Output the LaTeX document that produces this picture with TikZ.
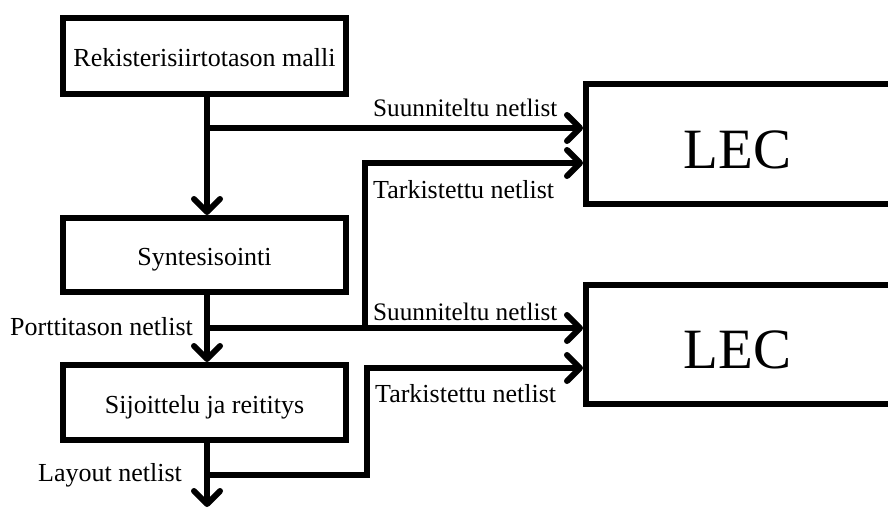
\documentclass[tikz,border=0pt]{standalone}
\usepackage{fontspec}
\setmainfont{Liberation Serif}
\usetikzlibrary{arrows.meta}
\begin{document}
\begin{tikzpicture}[x=1pt,y=-1pt,
  every node/.style={font=\fontsize{26}{30}\selectfont},
  stagebox/.style={draw, line width=6pt, minimum width=283pt, text height=21pt, text depth=0pt, inner sep=0pt},
  lecbox/.style={draw, line width=6pt, minimum width=360pt, minimum height=120pt, inner sep=0pt},
  lectext/.style={font=\fontsize{57}{60}\selectfont, anchor=base, inner sep=0pt},
  lbl/.style={anchor=base west, inner sep=0pt},
  slbl/.style={lbl, font=\fontsize{25.2}{30}\selectfont},
  flow/.style={line width=6pt},
  arr/.style={flow, -{Straight Barb[length=13pt, width=26pt, line cap=round, line join=round]}},
]
\clip (0,0) rectangle (888,508);
\fill[white] (0,0) rectangle (888,508);

% stage boxes
\node[stagebox, minimum height=76pt] (b1) at (204.5,56) {Rekisterisiirtotason malli};
\node[stagebox, minimum height=74pt] (b2) at (204.5,255) {Syntesisointi};
\node[stagebox, minimum height=75pt] (b3) at (204.5,402.5) {Sijoittelu ja reititys};

% LEC boxes
\node[lecbox] (lec1) at (766,144) {};
\node[lectext] (lec1t) at (737.5,168) {LEC};
\node[lecbox, minimum height=119pt] (lec2) at (766,344.5) {};
\node[lectext] (lec2t) at (737.5,368) {LEC};

% helper coordinates
\coordinate (vx) at (207,0);
\coordinate (j1) at (207,128);
\coordinate (j2) at (207,328);
\coordinate (k1) at (365,328);
\coordinate (c1) at (365,163);
\coordinate (j3) at (207,475);
\coordinate (c2) at (367,368);
\coordinate (out) at (207,507);

% main flow
\draw[arr] (b1.south -| vx) -- (b2.north -| vx);
\draw[arr] (b2.south -| vx) -- (b3.north -| vx);
\draw[arr] (b3.south -| vx) -- (out);

% branches
\draw[arr] (j1) -- (j1 -| lec1.west);
\draw[arr] (k1) -- (c1) -- (c1 -| lec1.west);
\draw[arr] (j2) -- (j2 -| lec2.west);
\draw[arr] (j3) -| (c2) -- (c2 -| lec2.west);

% labels
\node[slbl] (s1) at (373,117) {Suunniteltu netlist};
\node[lbl] (t1) at (373,198) {Tarkistettu netlist};
\node[slbl] (s2) at (373,320) {Suunniteltu netlist};
\node[lbl] (t2) at (375,402) {Tarkistettu netlist};
\node[lbl] (pn) at (10,335) {Porttitason netlist};
\node[lbl] (ln) at (38,481) {Layout netlist};
\end{tikzpicture}
\end{document}
